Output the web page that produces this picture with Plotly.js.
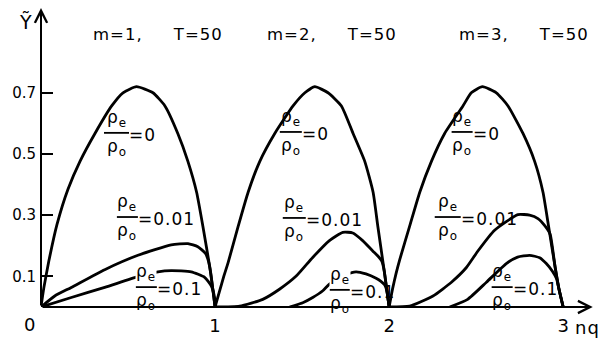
<!DOCTYPE html>
<html>
<head>
<meta charset="utf-8">
<script src="https://cdn.plot.ly/plotly-3.0.1.min.js"></script>
<style>
  html, body { margin: 0; padding: 0; background: #fff; }
  #chart { width: 602px; height: 339px; }
  .annotation-text { letter-spacing: 1px; }
</style>
</head>
<body>
<div id="chart"></div>
<script>
// Growth rate Ỹ versus nq for the first three modes, T = 50,
// for density ratios rho_e / rho_o = 0, 0.01 and 0.1.
const modes = [1, 2, 3];
const period = 50;
const ratios = ["0", "0.01", "0.1"];
const xTicks = [1, 2, 3];
const yTicks = [0.1, 0.3, 0.5, 0.7];

// m = 1
const m1_r0_x = [0, 0.017, 0.045, 0.092, 0.155, 0.224, 0.310, 0.406, 0.471, 0.549, 0.643, 0.712, 0.786, 0.844, 0.894, 0.930, 0.970, 0.987, 1.0];
const m1_r0_y = [0, 0.065, 0.150, 0.270, 0.385, 0.476, 0.567, 0.657, 0.700, 0.720, 0.700, 0.657, 0.567, 0.476, 0.375, 0.264, 0.129, 0.058, 0];
const m1_r1_x = [0, 0.079, 0.174, 0.366, 0.557, 0.748, 0.844, 0.901, 0.945, 0.962, 0.975, 0.988, 1.0];
const m1_r1_y = [0, 0.036, 0.064, 0.122, 0.169, 0.203, 0.207, 0.197, 0.175, 0.150, 0.112, 0.055, 0];
const m1_r2_x = [0, 0.174, 0.366, 0.557, 0.672, 0.748, 0.863, 0.940, 0.978, 0.997, 1.0];
const m1_r2_y = [0, 0.031, 0.064, 0.099, 0.115, 0.119, 0.115, 0.097, 0.069, 0.031, 0];

// m = 2
const m2_r0_x = [1.0, 1.025, 1.050, 1.075, 1.133, 1.190, 1.257, 1.343, 1.448, 1.516, 1.573, 1.649, 1.726, 1.793, 1.860, 1.908, 1.935, 1.969, 1.986, 2.0];
const m2_r0_y = [0, 0.050, 0.100, 0.145, 0.264, 0.375, 0.476, 0.567, 0.657, 0.700, 0.720, 0.700, 0.657, 0.567, 0.476, 0.375, 0.264, 0.129, 0.058, 0];
const m2_r1_x = [1.0, 1.141, 1.274, 1.370, 1.466, 1.561, 1.657, 1.734, 1.791, 1.848, 1.906, 1.938, 1.958, 1.972, 1.987, 2.0];
const m2_r1_y = [0, 0.003, 0.025, 0.058, 0.101, 0.162, 0.217, 0.244, 0.242, 0.217, 0.183, 0.165, 0.150, 0.118, 0.055, 0];
const m2_r2_x = [1.428, 1.504, 1.561, 1.619, 1.657, 1.753, 1.810, 1.867, 1.925, 1.953, 1.975, 1.988, 2.0];
const m2_r2_y = [0, 0.014, 0.031, 0.053, 0.075, 0.106, 0.115, 0.108, 0.094, 0.084, 0.072, 0.050, 0];

// m = 3
const m3_r0_x = [2.0, 2.020, 2.040, 2.061, 2.118, 2.176, 2.243, 2.319, 2.424, 2.472, 2.536, 2.616, 2.683, 2.769, 2.836, 2.884, 2.916, 2.954, 2.976, 3.0];
const m3_r0_y = [0, 0.060, 0.110, 0.155, 0.264, 0.375, 0.476, 0.567, 0.657, 0.700, 0.720, 0.700, 0.657, 0.567, 0.476, 0.375, 0.264, 0.129, 0.058, 0];
const m3_r1_x = [2.0, 2.118, 2.252, 2.358, 2.444, 2.510, 2.606, 2.740, 2.807, 2.855, 2.894, 2.925, 2.954, 2.976, 3.0];
const m3_r1_y = [0, 0.003, 0.036, 0.081, 0.129, 0.183, 0.251, 0.302, 0.300, 0.289, 0.266, 0.238, 0.129, 0.058, 0];
const m3_r2_x = [2.348, 2.451, 2.559, 2.673, 2.738, 2.807, 2.865, 2.903, 2.939, 2.962, 2.976, 3.0];
const m3_r2_y = [0, 0.025, 0.081, 0.142, 0.163, 0.169, 0.161, 0.142, 0.116, 0.092, 0.058, 0];

const curves = [
  [m1_r0_x, m1_r0_y], [m1_r1_x, m1_r1_y], [m1_r2_x, m1_r2_y],
  [m2_r0_x, m2_r0_y], [m2_r1_x, m2_r1_y], [m2_r2_x, m2_r2_y],
  [m3_r0_x, m3_r0_y], [m3_r1_x, m3_r1_y], [m3_r2_x, m3_r2_y]
];

const FONT = "DejaVu Sans, Arial, sans-serif";
const INK = "#000";
const PX_PER_X = 557 / 3.2;   // plot width / x range

const traces = curves.map(([x, y]) => ({
  type: "scatter", mode: "lines", x: x, y: y,
  line: { color: INK, width: 2.8, shape: "spline", smoothing: 0.5 },
  hoverinfo: "skip", showlegend: false
}));

// where each rho_e/rho_o label sits (left end of its fraction bar), bar length in px,
// and whether the numerator masks the curve running behind it
const labelSpots = [
  { x: 0.362, y: 0.569, w: 25 }, { x: 0.436, y: 0.294, w: 21 }, { x: 0.545, y: 0.065, w: 21, mask: true },
  { x: 1.372, y: 0.572, w: 22 }, { x: 1.389, y: 0.291, w: 23 }, { x: 1.659, y: 0.056, w: 20, mask: true },
  { x: 2.359, y: 0.572, w: 21 }, { x: 2.262, y: 0.294, w: 26 }, { x: 2.589, y: 0.065, w: 21 }
];
const titleX = [0.672, 1.672, 2.775];

const annotations = [];
const barX = [], barY = [];

modes.forEach((m, i) => {
  annotations.push({
    x: titleX[i], y: 0.889, xref: "x", yref: "y", showarrow: false,
    text: "m=" + m + ",\u00a0\u00a0\u00a0\u00a0\u00a0T=" + period,
    font: { family: FONT, size: 16.5, color: INK }
  });
  ratios.forEach((r, j) => {
    const s = labelSpots[i * 3 + j];
    barX.push(s.x, s.x + s.w / PX_PER_X, null);
    barY.push(s.y, s.y, null);
    const f = { family: FONT, size: 17, color: INK };
    annotations.push({
      x: s.x, y: s.y, xref: "x", yref: "y", showarrow: false,
      xanchor: "center", xshift: s.w / 2, yanchor: "bottom", yshift: 2,
      text: "ρ<sub>e</sub>", font: f, borderpad: 0,
      bgcolor: s.mask ? "#fff" : "rgba(0,0,0,0)"
    });
    annotations.push({
      x: s.x, y: s.y, xref: "x", yref: "y", showarrow: false,
      xanchor: "center", xshift: s.w / 2, yanchor: "top", yshift: -2,
      text: "ρ<sub>o</sub>", font: f, borderpad: 0
    });
    annotations.push({
      x: s.x, y: s.y, xref: "x", yref: "y", showarrow: false,
      xanchor: "left", xshift: s.w - 1, yanchor: "middle", yshift: -2,
      text: "=" + r, font: f, borderpad: 0
    });
  });
});

// fraction bars of the rho_e/rho_o labels
traces.push({
  type: "scatter", mode: "lines", x: barX, y: barY,
  line: { color: INK, width: 1.8 }, connectgaps: false,
  hoverinfo: "skip", showlegend: false
});

// axes drawn as arrows from the origin
annotations.push({
  x: 3.17, y: 0, ax: 0, ay: 0, xref: "x", yref: "y", axref: "x", ayref: "y",
  showarrow: true, arrowhead: 5, arrowsize: 1.2, arrowwidth: 2, arrowcolor: INK,
  standoff: 0, startstandoff: 0, text: ""
});
annotations.push({
  x: 0, y: 0.977, ax: 0, ay: 0, xref: "x", yref: "y", axref: "x", ayref: "y",
  showarrow: true, arrowhead: 5, arrowsize: 1.2, arrowwidth: 2, arrowcolor: INK,
  standoff: 0, startstandoff: 0, text: ""
});
// axis names and the origin
annotations.push({
  x: -0.027, y: 0.953, xref: "paper", yref: "paper", showarrow: false,
  xanchor: "center", yanchor: "middle",
  text: "Ỹ", font: { family: FONT, size: 19, color: INK }
});
annotations.push({
  x: 0.982, y: -0.07, xref: "paper", yref: "paper", showarrow: false,
  xanchor: "center", yanchor: "middle",
  text: "nq", font: { family: FONT, size: 18, color: INK }
});
annotations.push({
  x: -0.0197, y: -0.06, xref: "paper", yref: "paper", showarrow: false,
  xanchor: "center", yanchor: "middle",
  text: "0", font: { family: FONT, size: 18, color: INK }
});

const layout = {
  width: 602, height: 339,
  margin: { l: 41, r: 4, t: 8, b: 32 },
  paper_bgcolor: "#fff", plot_bgcolor: "#fff",
  showlegend: false,
  xaxis: {
    range: [0, 3.2], showgrid: false, zeroline: false, showline: false,
    tickvals: xTicks, ticks: "", ticklabelstandoff: 6,
    tickfont: { family: FONT, size: 18, color: INK }
  },
  yaxis: {
    range: [0, 0.977], showgrid: false, zeroline: false, showline: false,
    tickvals: yTicks, ticks: "inside", ticklen: 12, tickwidth: 2, tickcolor: INK,
    ticklabelstandoff: 4,
    tickfont: { family: FONT, size: 15, color: INK }
  },
  annotations: annotations
};

Plotly.newPlot("chart", traces, layout, { staticPlot: true, displayModeBar: false });
</script>
</body>
</html>
